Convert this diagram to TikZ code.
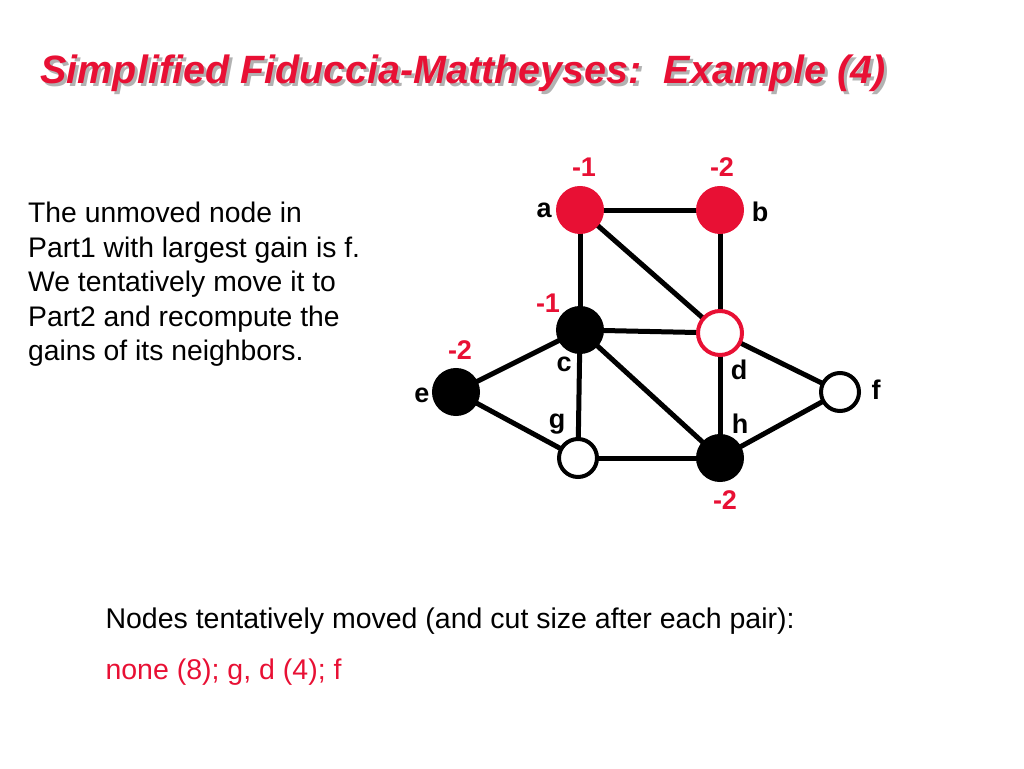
\documentclass[tikz,border=0pt]{standalone}
\usepackage{fontspec}
\setmainfont{Liberation Sans}
\begin{document}
\definecolor{myred}{RGB}{232,16,52}
\begin{tikzpicture}[x=1pt,y=-1pt,
  vtx/.style={circle,minimum size=44pt,inner sep=0pt,line width=4pt},
  blk/.style={vtx,fill=black,draw=black},
  wht/.style={vtx,fill=white,draw=black},
  rfill/.style={vtx,fill=myred,draw=myred},
  rring/.style={vtx,fill=white,draw=myred},
  lab/.style={font=\bfseries\fontsize{27}{27}\selectfont},
  gain/.style={lab,text=myred},
  edge/.style={line width=5pt}]
\useasboundingbox (0,0) rectangle (1024,768);
\node[anchor=west,font=\fontsize{39.5}{40}\selectfont\bfseries\itshape,text=gray!60] (shadow) at (40,76) {Simplified Fiduccia-Mattheyses:\ \ Example (4)};
\node[anchor=west,font=\fontsize{39.5}{40}\selectfont\bfseries\itshape,text=myred] (title) at (37,73) {Simplified Fiduccia-Mattheyses:\ \ Example (4)};
\node[anchor=north west,align=left,font=\fontsize{28.3}{34.5}\selectfont,inner sep=0pt] (txt) at (28,202) {The unmoved node in\\Part1 with largest gain is f.\\We tentatively move it to\\Part2 and recompute the\\gains of its neighbors.};
\coordinate (a) at (580,210); \coordinate (b) at (720,210);
\coordinate (c) at (580,330); \coordinate (d) at (720,333);
\coordinate (e) at (456,392); \coordinate (f) at (840,392);
\coordinate (g) at (578,458); \coordinate (h) at (720,458);
\foreach \u/\v in {a/b,a/c,a/d,b/d,c/d,c/e,c/g,c/h,e/g,g/h,d/h,d/f,h/f}
  \draw[edge] (\u) -- (\v);
\node[rfill] (na) at (a) {}; \node[rfill] (nb) at (b) {};
\node[blk] (nc) at (c) {}; \node[rring] (nd) at (d) {};
\node[blk] (ne) at (e) {}; \node[wht,minimum size=38pt] (nf) at (f) {};
\node[wht,minimum size=38pt] (ng) at (g) {}; \node[blk] (nh) at (h) {};
\node[lab] (la) at (544,210) {a}; \node[lab] (lb) at (760,212) {b};
\node[lab] (lc) at (564,364) {c}; \node[lab] (ld) at (739,370) {d};
\node[lab] (le) at (422,395) {e}; \node[lab] (lf) at (876,390) {f};
\node[lab] (lg) at (557,424) {g}; \node[lab] (lh) at (740,424) {h};
\node[gain] (ga) at (584,167) {-1}; \node[gain] (gb) at (722,167) {-2};
\node[gain] (gc) at (548,303) {-1}; \node[gain] (ge) at (460,350) {-2};
\node[gain] (gh) at (725,500) {-2};
\node[anchor=west,font=\fontsize{28.5}{28}\selectfont] (n1) at (102,621) {Nodes tentatively moved (and cut size after each pair):};
\node[anchor=west,font=\fontsize{28.5}{28}\selectfont,text=myred] (n2) at (102,672) {none (8); g, d (4); f};
\end{tikzpicture}
\end{document}
